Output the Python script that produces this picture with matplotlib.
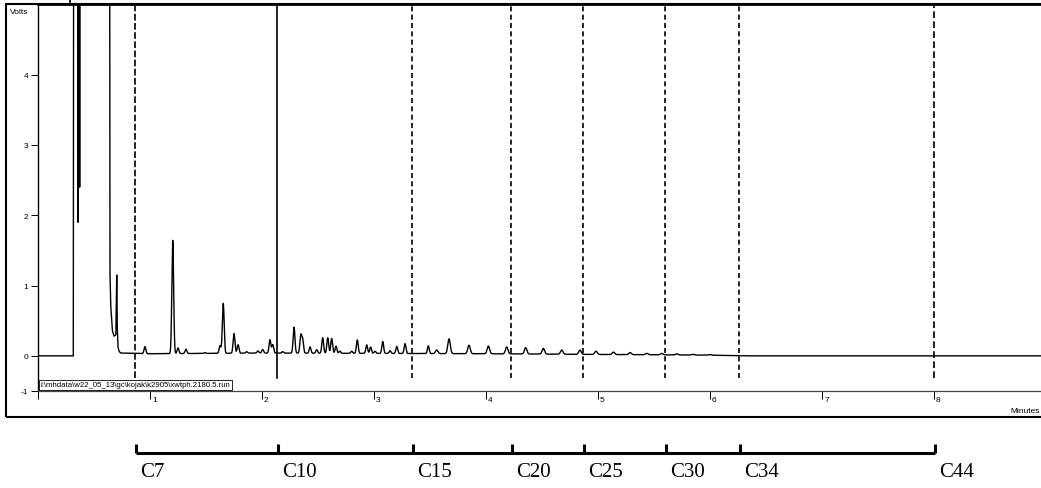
import numpy as np
import matplotlib
matplotlib.use("Agg")
import matplotlib.pyplot as plt
from matplotlib import transforms
from matplotlib.patches import Rectangle

# solvent front (clipped at the top of the scale)
solvent_t = [0.0, 0.315, 0.318, 0.355, 0.358, 0.362, 0.368, 0.372, 0.376,
             0.640, 0.643, 0.650, 0.665, 0.680, 0.695, 0.700, 0.703, 0.708,
             0.715, 0.725, 0.740]
solvent_v = [0.0, 0.0, 6.0, 6.0, 1.9, 6.0, 6.0, 2.4, 6.0,
             6.0, 1.15, 0.70, 0.35, 0.28, 0.30, 0.80, 1.15, 0.40,
             0.12, 0.06, 0.04]

# peak table (minutes, volts above baseline)
peak_t = [0.955, 1.203, 1.250, 1.321, 1.490, 1.625, 1.654, 1.750, 1.786,
          1.863, 1.964, 2.006, 2.071, 2.096, 2.185, 2.286, 2.346, 2.363, 2.429,
          2.488, 2.542, 2.587, 2.622, 2.661, 2.696, 2.801, 2.851, 2.935, 2.970,
          3.009, 3.078, 3.143, 3.203, 3.277, 3.485, 3.560, 3.670, 3.848, 4.021,
          4.185, 4.354, 4.512, 4.676, 4.839, 4.982, 5.137, 5.286, 5.435, 5.569,
          5.703, 5.848, 6.000]
peak_h = [0.10, 1.61, 0.08, 0.06, 0.01, 0.11, 0.71, 0.28, 0.12,
          0.02, 0.03, 0.05, 0.19, 0.12, 0.02, 0.37, 0.25, 0.19, 0.09,
          0.05, 0.22, 0.22, 0.21, 0.10, 0.03, 0.03, 0.19, 0.12, 0.09,
          0.03, 0.17, 0.04, 0.10, 0.14, 0.11, 0.05, 0.21, 0.12, 0.11,
          0.10, 0.09, 0.08, 0.06, 0.06, 0.045, 0.035, 0.03, 0.02, 0.02,
          0.015, 0.01, 0.008]

# baseline drift
base_t = [0.74, 1.0, 2.0, 3.0, 4.0, 5.0, 6.0, 6.3, 9.0]
base_v = [0.04, 0.03, 0.04, 0.035, 0.03, 0.02, 0.01, 0.0, 0.0]

# carbon number markers
marker_t = [0.866, 2.134, 3.339, 4.223, 4.866, 5.598, 6.259, 8.0]
marker_labels = ["C7", "C10", "C15", "C20", "C25", "C30", "C34", "C44"]

xtick_pos = [1, 2, 3, 4, 5, 6, 7, 8]
xtick_labels = ["1", "2", "3", "4", "5", "6", "7", "8"]
ytick_pos = [-0.5, 0, 1, 2, 3, 4]
ytick_labels = ["-1", "0", "1", "2", "3", "4"]

run_file = r"i:\mhdata\w22_05_13\gc\kojak\k2905\xwtph.2180.5.run"

# build trace
grid = np.arange(0.7405, 9.0, 0.0005)
trace = np.interp(grid, base_t, base_v)
for t0, h in zip(peak_t, peak_h):
    sig = 0.008 if t0 < 3.5 else 0.011
    trace += h * np.exp(-0.5 * ((grid - t0) / sig) ** 2)
t_all = np.concatenate([solvent_t, grid])
v_all = np.concatenate([solvent_v, trace])

fig = plt.figure(figsize=(10.41, 4.89), dpi=100)
ax = fig.add_axes([38 / 1041, 97 / 489, 9 * 112 / 1041, 5.5 * 70.3 / 489])
ax.set_xlim(0, 9)
ax.set_ylim(-0.5, 5.0)

ax.plot(t_all, v_all, color="black", lw=1.0)

# carbon range lines
styles = [(0, (4, 1.5)), "-", (0, (3, 2)), (0, (3, 2)), (0, (3, 2)),
          (0, (3, 2)), (0, (3, 2)), (0, (4, 2))]
for t0, ls in zip(marker_t, styles):
    ax.plot([t0, t0], [-0.32, 5.0], color="black", lw=1.2, linestyle=ls)

# injection mark above the frame
ax.plot([0.286, 0.286], [5.0, 5.08], color="black", lw=1.2, clip_on=False)

# spines and ticks
ax.spines["right"].set_visible(False)
ax.spines["top"].set_linewidth(2.0)
ax.spines["left"].set_linewidth(1.0)
ax.spines["bottom"].set_linewidth(0.9)
ax.spines["bottom"].set_color("#444444")

ax.set_yticks(ytick_pos, ytick_labels)
ax.tick_params(axis="y", length=5, width=0.7, labelsize=6, pad=2)
ax.set_xticks([0] + xtick_pos, [""] * (len(xtick_pos) + 1))
ax.tick_params(axis="x", length=6, width=0.7)
for t0, lab in zip(xtick_pos, xtick_labels):
    ax.annotate(lab, (t0, -0.5), xytext=(1.5, -6), textcoords="offset points",
                ha="left", va="center", fontsize=6, family="Liberation Sans",
                annotation_clip=False)
for lab in ax.get_yticklabels():
    lab.set_family("Liberation Sans")

ax.text(0.022, -0.41, run_file, fontsize=5.6, family="Liberation Sans",
        ha="left", va="center",
        bbox=dict(boxstyle="square,pad=0.2", fc="white", ec="black", lw=0.6))

fig.text(10 / 1041, 1 - 12 / 489, "Volts", fontsize=6,
         family="Liberation Sans", va="center")
fig.text(1040 / 1041, 1 - 412 / 489, "Minutes", fontsize=6,
         family="Liberation Sans", ha="right", va="center")

# outer frame
fig.add_artist(Rectangle((6 / 1041, 71 / 489), 1.0, 413 / 489,
                         transform=fig.transFigure, fill=False,
                         lw=1.5, ec="black", clip_on=False))

# carbon number scale under the chart
base = transforms.blended_transform_factory(ax.transData, fig.transFigure)
trans = transforms.offset_copy(base, fig=fig, x=1.3, y=0, units="dots")
text_trans = transforms.offset_copy(base, fig=fig, x=5.5, y=0, units="dots")
bar_y = 35 / 489
ax.plot([marker_t[0], marker_t[-1]], [bar_y, bar_y], color="black", lw=2.2,
        transform=trans, clip_on=False, solid_capstyle="butt")
for t0, lab in zip(marker_t, marker_labels):
    ax.plot([t0, t0], [bar_y, 44 / 489], color="black", lw=2.2,
            transform=trans, clip_on=False, solid_capstyle="butt")
    ax.text(t0, 26 / 489, lab, transform=text_trans, fontsize=15,
            family="Liberation Serif", ha="left", va="top", clip_on=False)

fig.savefig("out.png", dpi=100)
